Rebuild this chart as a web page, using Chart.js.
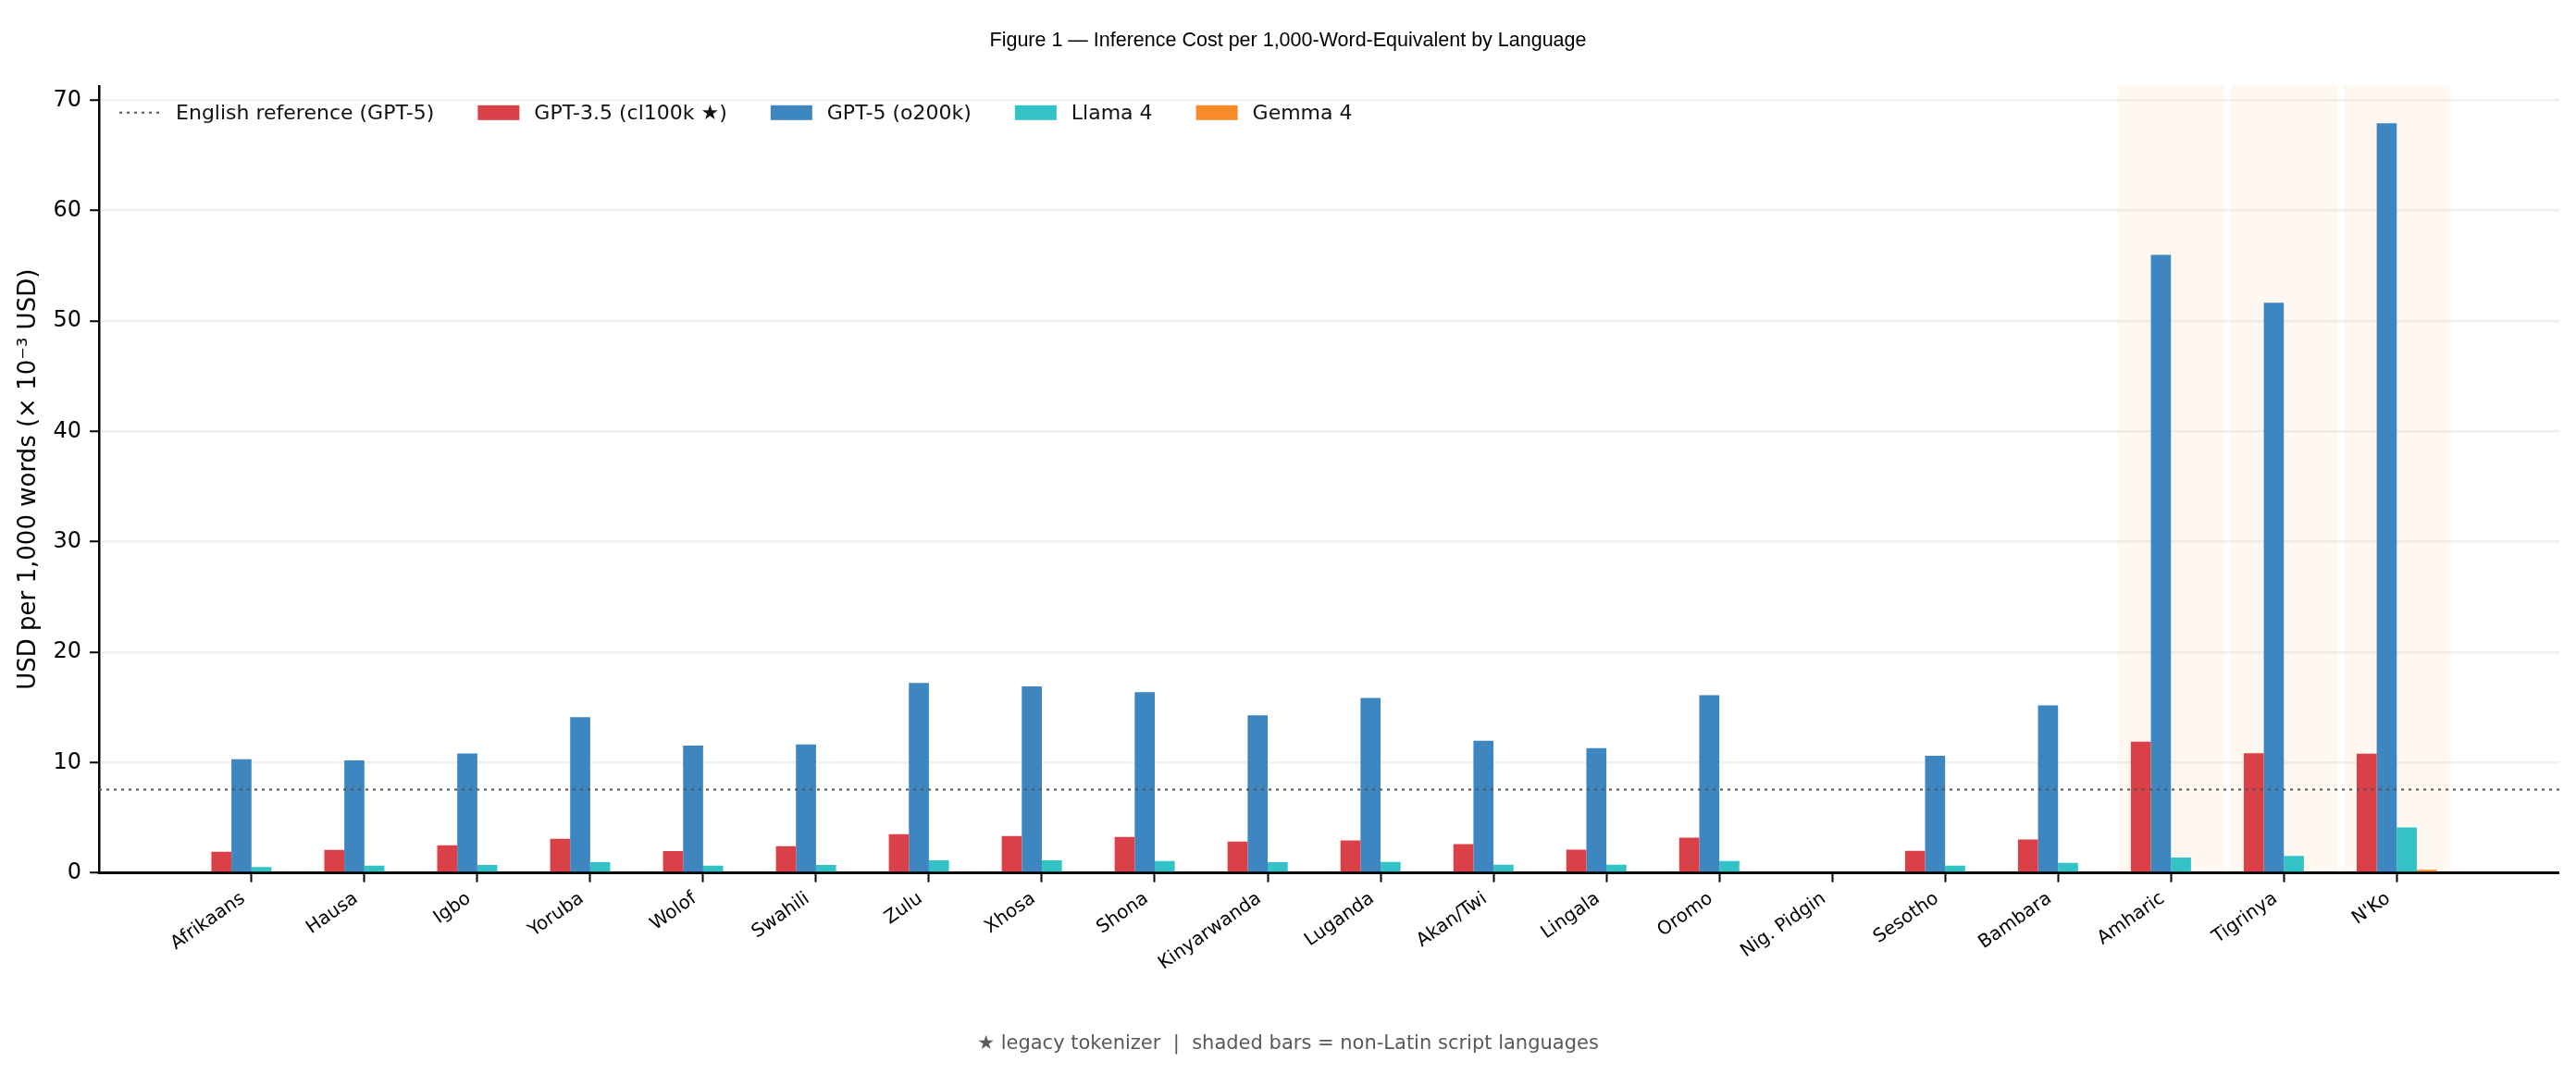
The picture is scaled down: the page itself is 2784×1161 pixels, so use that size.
<!DOCTYPE html>
<html>
<head>
<meta charset="utf-8">
<title>Inference Cost per 1,000-Word-Equivalent by Language</title>
<script src="https://cdn.jsdelivr.net/npm/chart.js@4.4.1/dist/chart.umd.min.js"></script>
<style>
  html, body { margin: 0; padding: 0; background: #fff; }
  #wrap { width: 2784px; height: 1161px; position: relative; }
</style>
</head>
<body>
<div id="wrap"><canvas id="costChart"></canvas></div>
<script>
// values, USD per 1,000 words (x 10^-3)
const languages = ['Afrikaans', 'Hausa', 'Igbo', 'Yoruba', 'Wolof', 'Swahili', 'Zulu', 'Xhosa', 'Shona',
    'Kinyarwanda', 'Luganda', 'Akan/Twi', 'Lingala', 'Oromo', 'Nig. Pidgin', 'Sesotho', 'Bambara',
    'Amharic', 'Tigrinya', "N'Ko"];
const gpt35 = [1.91, 2.08, 2.50, 3.09, 1.99, 2.41, 3.50, 3.34, 3.25, 2.83, 2.95, 2.60, 2.10, 3.20, null, 2.00, 3.03, 11.9, 10.85, 10.8];
const gpt5 = [10.3, 10.2, 10.83, 14.1, 11.53, 11.64, 17.22, 16.89, 16.38, 14.28, 15.85, 11.97, 11.3, 16.1, null, 10.62, 15.18, 56.0, 51.66, 67.9];
const llama4 = [0.53, 0.65, 0.73, 0.98, 0.65, 0.73, 1.15, 1.15, 1.07, 0.98, 0.99, 0.74, 0.74, 1.08, null, 0.65, 0.91, 1.40, 1.55, 4.12];
const gemma4 = [0, 0, 0, 0, 0, 0, 0, 0, 0, 0, 0, 0, 0, 0, null, 0, 0, 0, 0, 0.28];
const nonLatin = ['Amharic', 'Tigrinya', "N'Ko"];
const englishRef = 7.55;
const refLabel = 'English reference (GPT-5)';
const yTicks = [0, 10, 20, 30, 40, 50, 60, 70];
const yMax = 71.3;
const xMin = -1.35;
const xMax = 20.44;

const points = arr => arr.map((v, i) => ({ x: i, y: v }));

// light orange band behind the non-Latin script languages
const shadePlugin = {
    id: 'shade',
    beforeDraw(chart) {
        const {ctx, chartArea, scales: {x}} = chart;
        const step = x.getPixelForValue(1) - x.getPixelForValue(0);
        ctx.save();
        ctx.fillStyle = 'rgba(253, 160, 80, 0.08)';
        nonLatin.forEach(name => {
            const cx = x.getPixelForValue(languages.indexOf(name));
            ctx.fillRect(cx - step * 0.47, chartArea.top, step * 0.94, chartArea.bottom - chartArea.top);
        });
        ctx.restore();
    }
};

// dotted English reference across the whole plot, black baseline on top
const refLinePlugin = {
    id: 'refLine',
    afterDatasetsDraw(chart) {
        const {ctx, chartArea, scales: {y}} = chart;
        const py = y.getPixelForValue(englishRef);
        ctx.save();
        ctx.strokeStyle = '#555';
        ctx.lineWidth = 2;
        ctx.setLineDash([3, 5]);
        ctx.beginPath();
        ctx.moveTo(chartArea.left, py);
        ctx.lineTo(chartArea.right, py);
        ctx.stroke();
        ctx.restore();
    },
    afterDraw(chart) {
        const {ctx, chartArea, scales: {y}} = chart;
        const p0 = y.getPixelForValue(0);
        ctx.save();
        ctx.strokeStyle = '#000';
        ctx.lineWidth = 2.5;
        ctx.beginPath();
        ctx.moveTo(chartArea.left - 1.25, p0);
        ctx.lineTo(chartArea.right, p0);
        ctx.stroke();
        ctx.restore();
    }
};

// one-row legend inside the top left of the plot
const legendPlugin = {
    id: 'inPlotLegend',
    afterDraw(chart) {
        const {ctx, chartArea} = chart;
        const cy = chartArea.top + 29;
        let x = chartArea.left + 22;
        ctx.save();
        ctx.font = '22px "DejaVu Sans"';
        ctx.textBaseline = 'middle';
        const items = [{ label: refLabel, line: true }].concat(chart.data.datasets);
        items.forEach(item => {
            if (item.line) {
                ctx.strokeStyle = '#555';
                ctx.lineWidth = 2;
                ctx.setLineDash([3, 5]);
                ctx.beginPath();
                ctx.moveTo(x, cy);
                ctx.lineTo(x + 45, cy);
                ctx.stroke();
                ctx.setLineDash([]);
            } else {
                ctx.fillStyle = item.backgroundColor;
                ctx.fillRect(x, cy - 8, 45, 16);
            }
            ctx.fillStyle = '#111';
            ctx.fillText(item.label, x + 61, cy + 1);
            x += 61 + ctx.measureText(item.label).width + 47;
        });
        ctx.restore();
    }
};

new Chart(document.getElementById('costChart'), {
    type: 'bar',
    data: {
        datasets: [
            { label: 'GPT-3.5 (cl100k ★)', data: points(gpt35), backgroundColor: '#da4048' },
            { label: 'GPT-5 (o200k)', data: points(gpt5), backgroundColor: '#3d86c0' },
            { label: 'Llama 4', data: points(llama4), backgroundColor: '#33c3c6' },
            { label: 'Gemma 4', data: points(gemma4), backgroundColor: '#f78b2b' }
        ]
    },
    options: {
        responsive: true,
        maintainAspectRatio: false,
        animation: false,
        layout: { padding: { left: 18, right: 18, top: 0, bottom: 0 } },
        datasets: { bar: { categoryPercentage: 0.71, barPercentage: 1, borderWidth: 0 } },
        plugins: {
            tooltip: { enabled: false },
            legend: { display: false },
            title: {
                display: true,
                text: 'Figure 1 — Inference Cost per 1,000-Word-Equivalent by Language',
                color: '#000',
                font: { family: 'Liberation Sans', size: 21.5, weight: 'normal' },
                padding: { top: 31, bottom: 36 }
            },
            subtitle: {
                display: true,
                position: 'bottom',
                text: '★ legacy tokenizer  |  shaded bars = non-Latin script languages',
                color: '#5a5a5a',
                font: { family: 'DejaVu Sans', size: 21 },
                padding: { top: 56, bottom: 20 }
            }
        },
        scales: {
            x: {
                type: 'linear',
                min: xMin,
                max: xMax,
                offset: false,
                afterBuildTicks: axis => { axis.ticks = languages.map((_, i) => ({ value: i })); },
                border: { display: false },
                grid: {
                    display: true,
                    drawOnChartArea: false,
                    offset: false,
                    tickLength: 10,
                    tickWidth: 2,
                    tickColor: '#000'
                },
                ticks: {
                    autoSkip: false,
                    minRotation: 35,
                    maxRotation: 35,
                    padding: 6,
                    labelOffset: -9,
                    color: '#000',
                    font: { family: 'DejaVu Sans', size: 20 },
                    callback: value => languages[value]
                }
            },
            y: {
                min: 0,
                max: yMax,
                afterBuildTicks: axis => { axis.ticks = yTicks.map(v => ({ value: v })); },
                border: { color: '#000', width: 2.5 },
                grid: {
                    color: ctx => ctx.tick && ctx.tick.value === 0 ? '#000' : 'rgba(0,0,0,0.06)',
                    lineWidth: 2.5,
                    tickLength: 10,
                    tickWidth: 2,
                    tickColor: '#000'
                },
                ticks: { padding: 9, color: '#000', font: { family: 'DejaVu Sans', size: 24 } },
                title: {
                    display: true,
                    text: 'USD per 1,000 words (× 10⁻³ USD)',
                    color: '#000',
                    font: { family: 'DejaVu Sans', size: 26 },
                    padding: { top: -2.6, bottom: 1.9 }
                }
            }
        }
    },
    plugins: [shadePlugin, refLinePlugin, legendPlugin]
});
</script>
</body>
</html>
